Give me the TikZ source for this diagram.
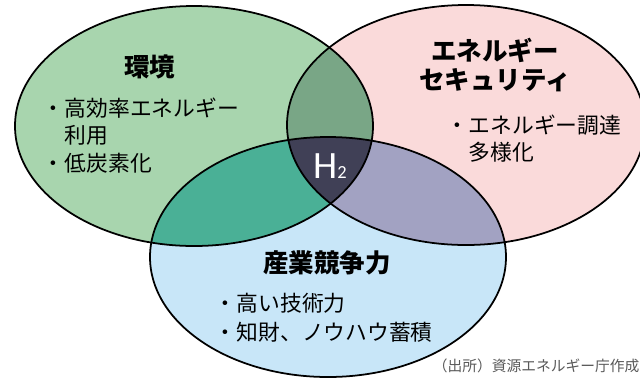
\documentclass[tikz,border=0pt]{standalone}
\usepackage{fontspec}
\setmainfont{Noto Sans CJK JP}
\newfontfamily\latina{Carlito}
\definecolor{verde}{HTML}{A8D5AE}
\definecolor{rosa}{HTML}{FADADA}
\definecolor{celeste}{HTML}{C8E6F8}
\definecolor{verdeosc}{HTML}{79A686}
\definecolor{turquesa}{HTML}{4AB096}
\definecolor{lila}{HTML}{A2A2C2}
\definecolor{noche}{HTML}{404056}
\definecolor{gris}{HTML}{595959}
\begin{document}
\begin{tikzpicture}[x=0.02cm, y=-0.02cm, line width=1pt,
  titulo/.style={font=\fontsize{14.5}{17}\selectfont\bfseries, inner sep=0pt, align=center},
  punto/.style={font=\fontsize{12.4}{15}\selectfont, anchor=west, inner sep=0pt}]
  \useasboundingbox (0,0) rectangle (640,380);
  % los tres elipses
  \fill[verde] (194,126) ellipse [x radius=179, y radius=120];
  \fill[rosa] (466,125) ellipse [x radius=179, y radius=120];
  \fill[celeste] (328,257) ellipse [x radius=178, y radius=120];
  % las intersecciones de a dos
  \begin{scope}
    \clip (194,126) ellipse [x radius=179, y radius=120];
    \fill[verdeosc] (466,125) ellipse [x radius=179, y radius=120];
    \fill[turquesa] (328,257) ellipse [x radius=178, y radius=120];
  \end{scope}
  \begin{scope}
    \clip (466,125) ellipse [x radius=179, y radius=120];
    \fill[lila] (328,257) ellipse [x radius=178, y radius=120];
  \end{scope}
  % el centro comun
  \begin{scope}
    \clip (194,126) ellipse [x radius=179, y radius=120];
    \clip (466,125) ellipse [x radius=179, y radius=120];
    \fill[noche] (328,257) ellipse [x radius=178, y radius=120];
  \end{scope}
  % los bordes
  \draw (194,126) ellipse [x radius=179, y radius=120];
  \draw (466,125) ellipse [x radius=179, y radius=120];
  \draw (328,257) ellipse [x radius=178, y radius=120];
  % los textos de cada elipse
  \node[titulo] (entorno) at (150,67) {環境};
  \node[punto] (entorno1) at (42,108) {・高効率エネルギー};
  \node[punto] (entorno2) at (64,135) {利用};
  \node[punto] (entorno3) at (42,163) {・低炭素化};
  \node[titulo] (seguridad) at (495,65) {エネルギー\\セキュリティ};
  \node[punto] (seguridad1) at (446,125) {・エネルギー調達};
  \node[punto] (seguridad2) at (468,152) {多様化};
  \node[titulo] (industria) at (327,263) {産業競争力};
  \node[punto] (industria1) at (214,303) {・高い技術力};
  \node[punto] (industria2) at (214,332) {・知財、ノウハウ蓄積};
  % el hidrogeno
  \node[anchor=base, inner sep=0pt, text=white, font=\latina] (hidro) at (330,178)
    {\fontsize{22}{22}\selectfont H\fontsize{10.5}{10.5}\selectfont 2};
  % la fuente
  \node[anchor=west, inner sep=0pt, text=gris, font=\fontsize{8.4}{10}\selectfont] (fuente) at (432,366)
    {（出所）資源エネルギー庁作成};
\end{tikzpicture}
\end{document}
